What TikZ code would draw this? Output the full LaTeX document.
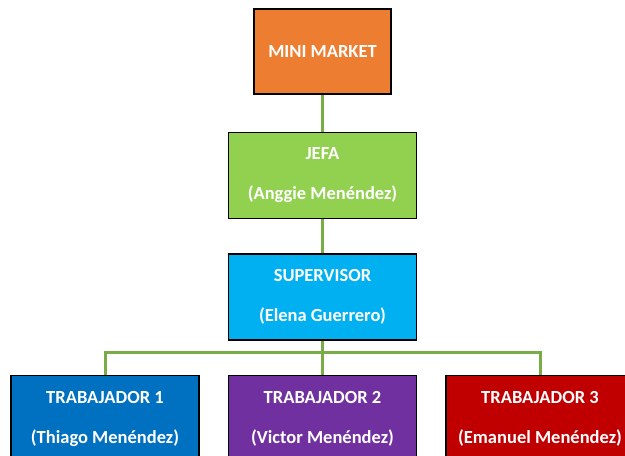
\documentclass[tikz,border=0pt]{standalone}
\usepackage{fontspec}
\setmainfont{Carlito}
\usepackage{tikz}
\usetikzlibrary{positioning}
\definecolor{Naranja}{HTML}{ED7D31}
\definecolor{Verde}{HTML}{92D050}
\definecolor{Celeste}{HTML}{00B0F0}
\definecolor{Azul}{HTML}{0070C0}
\definecolor{Morado}{HTML}{7030A0}
\definecolor{Rojo}{HTML}{C00000}
\definecolor{Rama}{HTML}{77AC47}

\begin{document}
\begin{tikzpicture}[
  node distance=34pt and 28pt,
  cargo/.style={draw=black,line width=1.5pt,minimum width=188pt,minimum height=86pt,inner sep=0pt,align=center,text=white,font=\bfseries\fontsize{18.5}{40}\selectfont},
  link/.style={draw=Rama,line width=3pt}
]
\useasboundingbox (0,0) rectangle (625pt,-456pt);
\node[cargo,fill=Naranja,minimum width=137pt,minimum height=85pt] (mm) at (322.5pt,-51.5pt) {MINI MARKET};
\node[cargo,fill=Verde,below=37pt of mm] (jefa) {JEFA\\(Anggie Menéndez)};
\node[cargo,fill=Celeste,below=of jefa] (sup) {SUPERVISOR\\(Elena Guerrero)};
\node[cargo,fill=Morado,below=of sup] (t2) {TRABAJADOR 2\\(Victor Menéndez)};
\node[cargo,fill=Azul,left=of t2] (t1) {TRABAJADOR 1\\(Thiago Menéndez)};
\node[cargo,fill=Rojo,right=of t2] (t3) {TRABAJADOR 3\\(Emanuel Menéndez)};
\coordinate[below=12pt of sup.south] (bus);
\draw[link] (mm) -- (jefa);
\draw[link] (jefa) -- (sup);
\draw[link] (sup) -- (t2);
\draw[link] (t1.north) |- (bus) -| (t3.north);
\end{tikzpicture}
\end{document}
